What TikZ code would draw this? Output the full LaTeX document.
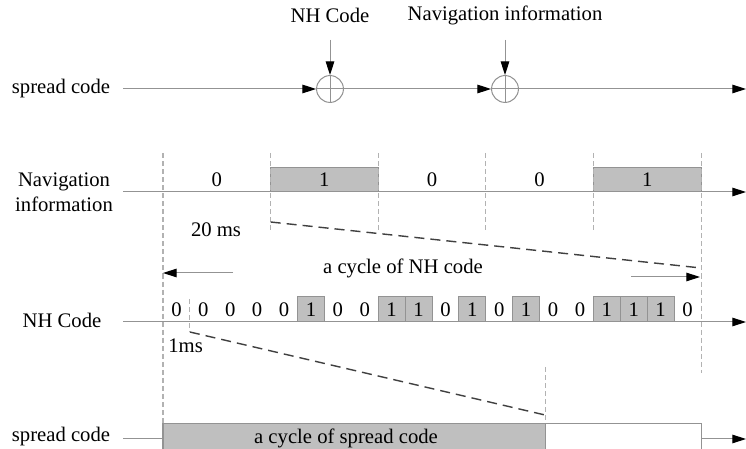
\documentclass[tikz,border=0pt]{standalone}
\usepackage{fontspec}
\setmainfont{Liberation Serif}
\usetikzlibrary{arrows.meta,positioning}

\tikzset{
	axis/.style={draw=gray!85, line width=0.5pt},
	arr/.style={-{Triangle[length=2.4mm,width=1.5mm,color=black]}},
	xor/.style={circle, draw=gray!85, line width=0.5pt, minimum size=0.47cm, inner sep=0pt},
	bitbox/.style={draw=gray!85, fill=gray!50, line width=0.5pt},
	tick/.style={draw=gray!60, line width=0.5pt, dash pattern=on 2.5pt off 1.5pt},
	zoomline/.style={draw=black!75, line width=0.7pt, dash pattern=on 5pt off 3pt}
}

\begin{document}
\begin{tikzpicture}[x=0.0175cm, y=-0.0175cm, font=\fontsize{10.3}{12.5}\selectfont]
	\useasboundingbox (0,0) rectangle (746,449);

	% Spreading with NH code and navigation data
	\coordinate (s0) at (123,89);
	\coordinate (s1) at (746,89);
	\node (splbl) at (61,89) {spread code};
	\node [xor] (x1) at (330,89) {};
	\node [xor] (x2) at (505,89) {};
	\draw [axis] (x1.north) -- (x1.south) (x1.west) -- (x1.east);
	\draw [axis] (x2.north) -- (x2.south) (x2.west) -- (x2.east);
	\node (nhtop) at (330,15) {NH Code};
	\node (navtop) at (505,15) {Navigation information};
	\coordinate (a1) at (330,40);
	\coordinate (a2) at (505,40);
	\draw [axis,arr] (s0) -- (x1.west);
	\draw [axis,arr] (x1.east) -- (x2.west);
	\draw [axis,arr] (x2.east) -- (s1);
	\draw [axis,arr] (a1) -- (x1.north);
	\draw [axis,arr] (a2) -- (x2.north);

	% Navigation information, 20 ms per bit
	\coordinate (n0) at (123,192);
	\coordinate (n1) at (746,192);
	\node [align=center] (navlbl) at (64,192) {Navigation\\information};
	\foreach \b [count=\i from 0] in {0,1,0,0,1} {
		\pgfmathsetmacro\xa{163+107.6*\i}
		\pgfmathsetmacro\xb{\xa+107.6}
		\ifnum\b=1
			\draw [bitbox] (\xa,168) rectangle (\xb,192);
		\fi
		\node (nav\i) at ({(\xa+\xb)/2},180) {\b};
	}
	\draw [axis,arr] (n0) -- (n1);
	\foreach \x in {270.6,378.2,485.8,593.4}
		\draw [tick] (\x,153) -- (\x,232);
	\draw [tick] (163,153) -- (163,424);
	\draw [tick] (701,153) -- (701,373);
	\node (ms20) at (216,230) {20 ms};

	% Zoom of one bit onto the NH code
	\coordinate (z1) at (270.6,222);
	\coordinate (z2) at (701,268);
	\draw [zoomline] (z1) -- (z2);
	\node (nhcyc) at (403,268) {a cycle of NH code};
	\coordinate (c1) at (233,273);
	\coordinate (c2) at (163,273);
	\coordinate (c3) at (631,277);
	\coordinate (c4) at (700,277);
	\draw [axis,arr] (c1) -- (c2);
	\draw [axis,arr] (c3) -- (c4);

	% NH code, 1 ms per bit
	\coordinate (h0) at (123,322);
	\coordinate (h1) at (746,322);
	\node (nhlbl) at (62,320) {NH Code};
	\foreach \b [count=\i from 0] in {0,0,0,0,0,1,0,0,1,1,0,1,0,1,0,0,1,1,1,0} {
		\pgfmathsetmacro\xa{163+26.9*\i}
		\pgfmathsetmacro\xb{\xa+26.9}
		\ifnum\b=1
			\draw [bitbox] (\xa,297) rectangle (\xb,322);
		\fi
		\node (nh\i) at ({(\xa+\xb)/2},309.5) {\b};
	}
	\draw [axis,arr] (h0) -- (h1);
	\draw [tick] (189.9,299) -- (189.9,332);
	\node [anchor=west, inner sep=0pt] (ms1) at (168,346) {1ms};

	% Zoom of one chip onto the spread code
	\coordinate (z3) at (189.9,332);
	\coordinate (z4) at (545,415);
	\draw [zoomline] (z3) -- (z4);
	\draw [tick] (545,367) -- (545,424);

	% Spread code
	\coordinate (p0) at (123,439);
	\coordinate (p1) at (163,439);
	\coordinate (p2) at (701,439);
	\coordinate (p3) at (746,439);
	\node (splbl2) at (61,437) {spread code};
	\draw [bitbox] (163,424) rectangle (545,460);
	\draw [axis] (545,424) rectangle (701,460);
	\node (spcyc) at (346,438) {a cycle of spread code};
	\draw [axis] (p0) -- (p1);
	\draw [axis,arr] (p2) -- (p3);
\end{tikzpicture}
\end{document}
